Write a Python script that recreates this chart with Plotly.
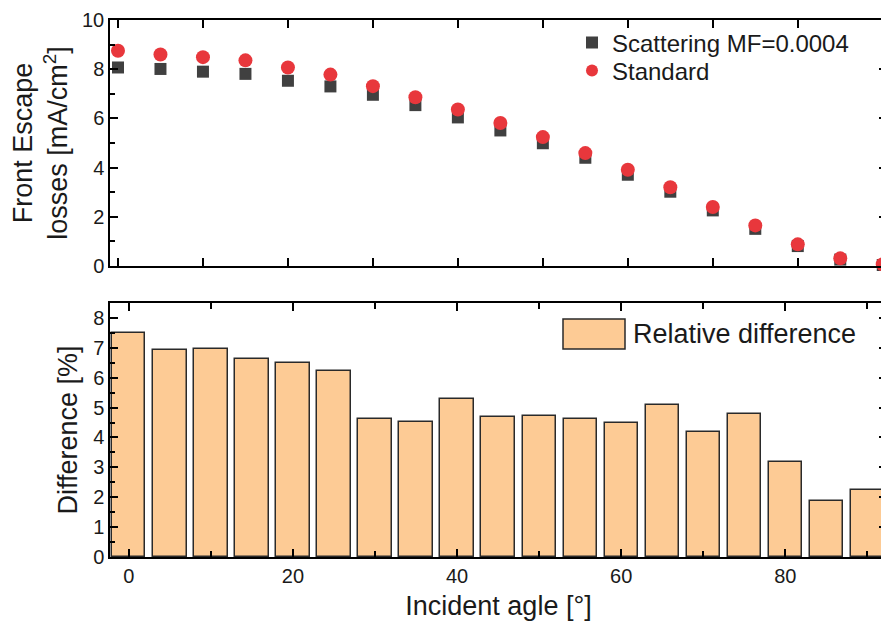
import plotly.graph_objects as go

angles = [0, 5, 10, 15, 20, 25, 30, 35, 40, 45, 50, 55, 60, 65, 70, 75, 80, 85, 90]
standard = [8.75, 8.60, 8.49, 8.36, 8.07, 7.78, 7.31, 6.86, 6.36, 5.81, 5.24, 4.59,
            3.91, 3.20, 2.40, 1.65, 0.88, 0.31, 0.07]
scattering = [8.07, 8.01, 7.90, 7.81, 7.53, 7.30, 6.96, 6.54, 6.04, 5.51, 4.99, 4.40,
              3.71, 3.02, 2.26, 1.51, 0.81, 0.26, 0.04]
rel_diff = [7.50, 6.94, 6.96, 6.61, 6.48, 6.21, 4.62, 4.51, 5.30, 4.70, 4.71, 4.62,
            4.49, 5.09, 4.19, 4.80, 3.18, 1.87, 2.25]

FONT = "Liberation Sans, Arial, sans-serif"
TXT = "#1a1a1a"

# page body adds an 8px offset; figure sized so the plot lands where the original's does
W, H = 881, 621
L, R, T, B = 102, 2, 12, 72
PW = W - L - R
PH = H - T - B


def px_x(x):
    return (x - 8 - L) / PW


def px_y(y):
    return (H - B - (y - 8)) / PH


fig = go.Figure()
fig.add_trace(go.Scatter(
    x=angles, y=scattering, mode="markers", name="Scattering MF=0.0004",
    marker=dict(symbol="square", size=12, color="#404040"),
    cliponaxis=False, xaxis="x", yaxis="y", legend="legend"))
fig.add_trace(go.Scatter(
    x=angles, y=standard, mode="markers", name="Standard",
    marker=dict(symbol="circle", size=14, color="#E8373C"),
    cliponaxis=False, xaxis="x", yaxis="y", legend="legend2"))
fig.add_trace(go.Bar(
    x=angles, y=rel_diff, width=4.05, name="Relative difference",
    marker=dict(color="#FDCB95", line=dict(color="#2a2a2a", width=1.5)),
    showlegend=False, xaxis="x2", yaxis="y2"))

axis_common = dict(showline=True, linecolor="black", linewidth=1.5, mirror="ticks",
                   ticks="inside", tickcolor="black", tickwidth=1.5,
                   showgrid=False, zeroline=False, automargin=False,
                   ticklabeloverflow="allow",
                   tickfont=dict(family=FONT, size=20, color=TXT))

legend_common = dict(xanchor="left", yanchor="middle",
                     bgcolor="rgba(0,0,0,0)", borderwidth=0, itemwidth=30,
                     font=dict(family=FONT, size=24, color=TXT),
                     itemsizing="constant", tracegroupgap=0)

fig.update_layout(
    width=W, height=H,
    margin=dict(l=L, r=R, t=T, b=B),
    paper_bgcolor="white", plot_bgcolor="white",
    font=dict(family=FONT, color=TXT),
    xaxis=dict(domain=[0, 1], range=[-0.94, 90.5], anchor="y", dtick=10, ticklen=8,
               showticklabels=False, **axis_common),
    yaxis=dict(domain=[px_y(266), 1], range=[0, 10], anchor="x", dtick=2, ticklen=8,
               minor=dict(dtick=1, ticks="inside", ticklen=5, tickcolor="black", tickwidth=1.5),
               title=dict(text="Front Escape<br>losses [mA/cm<sup>2</sup>]",
                          font=dict(family=FONT, size=27, color=TXT), standoff=14),
               **axis_common),
    xaxis2=dict(domain=[0, 1], range=[-2.3, 92.4], anchor="y2", dtick=20, ticklen=8,
                minor=dict(dtick=10, ticks="inside", ticklen=6, tickcolor="black", tickwidth=1.5),
                title=dict(text="Incident agle [°]", font=dict(family=FONT, size=27, color=TXT),
                           standoff=10),
                **axis_common),
    yaxis2=dict(domain=[0, px_y(303)], range=[0, 8.5], anchor="x2", dtick=1, ticklen=8,
                minor=dict(dtick=0.5, ticks="inside", ticklen=5, tickcolor="black", tickwidth=1.5),
                title=dict(text="Difference [%]", font=dict(family=FONT, size=27, color=TXT),
                           standoff=8),
                **axis_common),
    legend=dict(x=px_x(572), y=px_y(43), **legend_common),
    legend2=dict(x=px_x(572), y=px_y(71), **legend_common),
    bargap=0,
    showlegend=True,
)

# Bar legend (drawn as a swatch + label, matching the wide swatch of the original)
fig.add_shape(type="rect", xref="paper", yref="paper",
              x0=px_x(563), x1=px_x(625), y0=px_y(349), y1=px_y(319),
              fillcolor="#FDCB95", line=dict(color="#2a2a2a", width=1.5))
fig.add_annotation(xref="paper", yref="paper", x=px_x(631), y=px_y(334),
                   xanchor="left", yanchor="middle", showarrow=False,
                   text="Relative difference", font=dict(family=FONT, size=27, color=TXT))

fig.write_html("out.html")
